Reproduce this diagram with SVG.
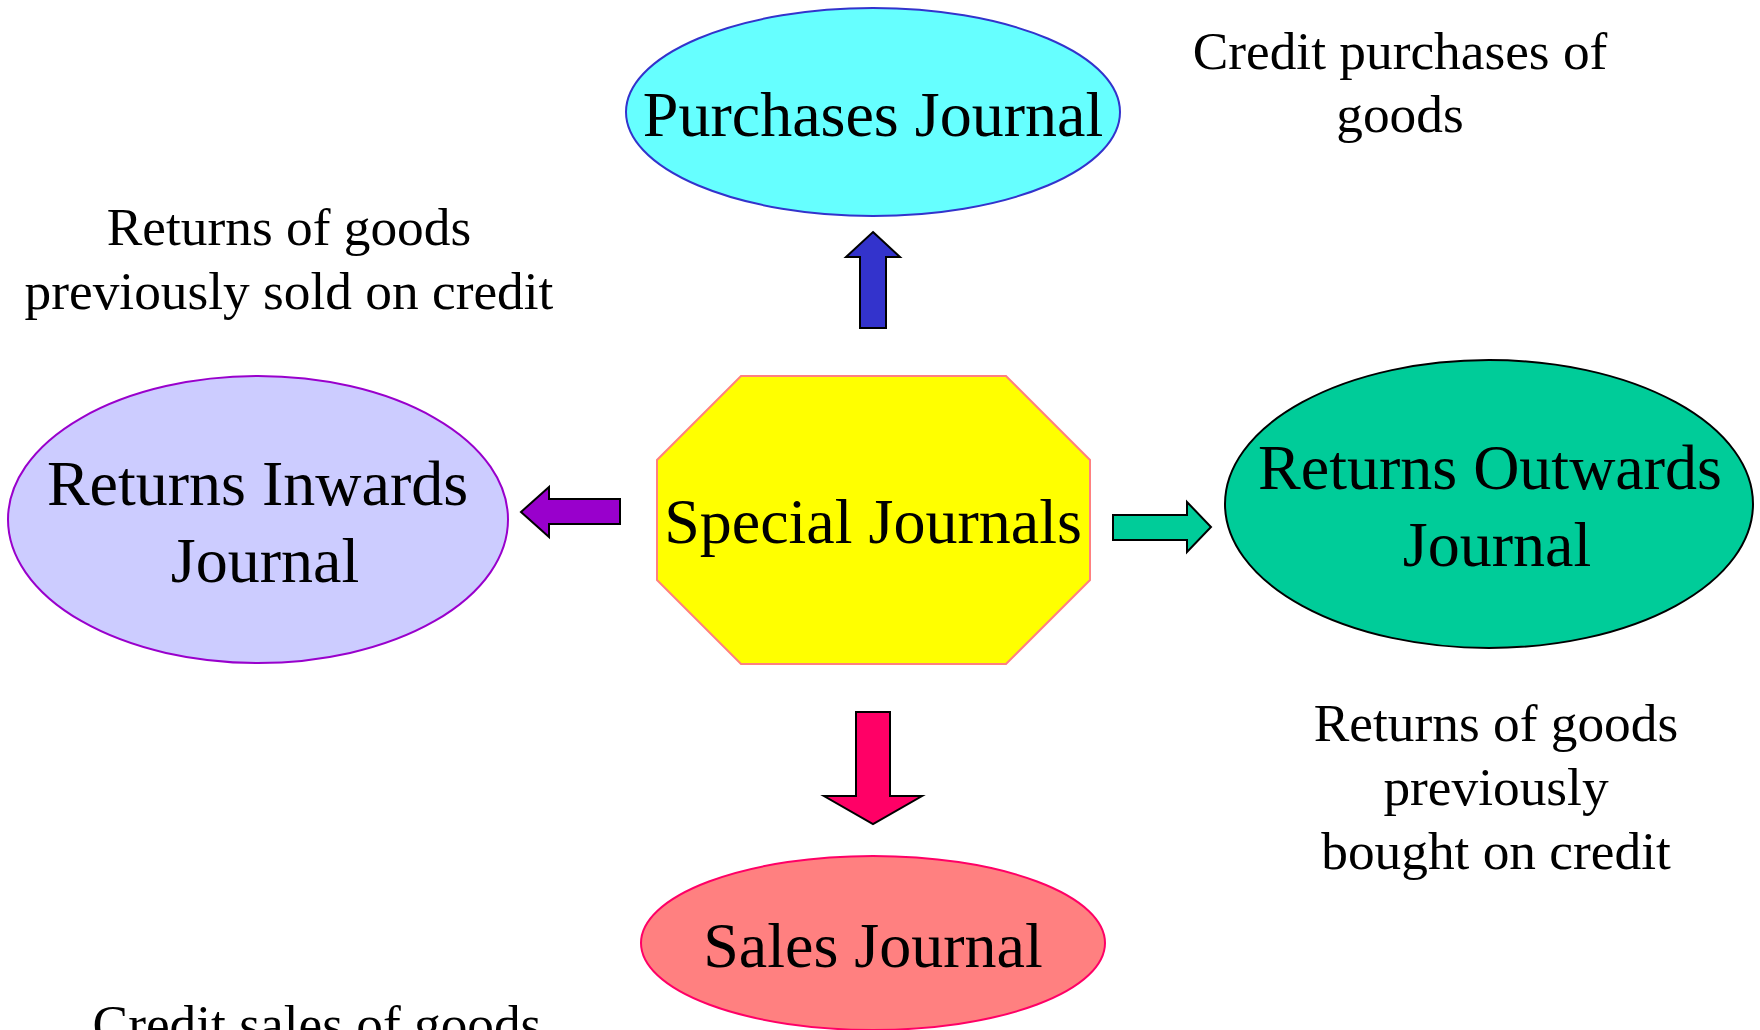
<svg xmlns="http://www.w3.org/2000/svg" width="1760" height="1030" viewBox="0 0 1760 1030">
  <style>
    text { font-family: "Liberation Serif", "Times New Roman", serif; fill: #000; text-anchor: middle; }
    .node { font-size: 64px; }
    .note { font-size: 53.33px; }
    .arrow { stroke: #000; stroke-width: 2; stroke-linejoin: miter; }
  </style>
  <rect width="1760" height="1030" fill="#fff"/>

  <!-- block arrows from the central node -->
  <g id="connectors">
    <polygon class="arrow" fill="#3333CC" points="873,232 900,257 886,257 886,328 860,328 860,257 846,257"/>
    <polygon class="arrow" fill="#FF0066" points="856,712 890,712 890,796 922,796 873,824 824,796 856,796"/>
    <polygon class="arrow" fill="#9900CC" points="521,512 549,487 549,499 620,499 620,524 549,524 549,537"/>
    <polygon class="arrow" fill="#00CC99" points="1113,515 1187,515 1187,502 1211,527 1187,552 1187,540 1113,540"/>
  </g>

  <g id="special-journals">
    <polygon fill="#FFFF00" stroke="#FF8080" stroke-width="2" points="741,376 1006,376 1090,460 1090,580 1006,664 741,664 657,580 657,460"/>
    <text class="node" x="873" y="543">Special Journals</text>
  </g>

  <g id="purchases-journal">
    <ellipse cx="873" cy="112" rx="247" ry="104" fill="#66FFFF" stroke="#3333CC" stroke-width="2"/>
    <text class="node" x="873" y="136">Purchases Journal</text>
  </g>

  <g id="returns-inwards-journal">
    <ellipse cx="258" cy="519.5" rx="250" ry="143.5" fill="#CCCCFF" stroke="#9900CC" stroke-width="2"/>
    <text class="node" x="257.5" y="505">Returns Inwards</text>
    <text class="node" x="265" y="582">Journal</text>
  </g>

  <g id="returns-outwards-journal">
    <ellipse cx="1489" cy="504" rx="264" ry="144" fill="#00CC99" stroke="#000" stroke-width="2"/>
    <text class="node" x="1490" y="489">Returns Outwards</text>
    <text class="node" x="1497" y="566">Journal</text>
  </g>

  <g id="sales-journal">
    <ellipse cx="873" cy="943" rx="232" ry="87" fill="#FF8080" stroke="#FF0066" stroke-width="2"/>
    <text class="node" x="873" y="967">Sales Journal</text>
  </g>

  <!-- explanatory notes -->
  <g id="note-purchases">
    <text class="note" x="1400" y="69">Credit purchases of</text>
    <text class="note" x="1400" y="132">goods</text>
  </g>
  <g id="note-returns-inwards">
    <text class="note" x="289" y="245">Returns of goods</text>
    <text class="note" x="289" y="309">previously sold on credit</text>
  </g>
  <g id="note-returns-outwards">
    <text class="note" x="1496" y="741">Returns of goods</text>
    <text class="note" x="1496" y="805">previously</text>
    <text class="note" x="1496" y="869">bought on credit</text>
  </g>
  <g id="note-sales">
    <text class="note" x="317" y="1042">Credit sales of goods</text>
  </g>
</svg>
